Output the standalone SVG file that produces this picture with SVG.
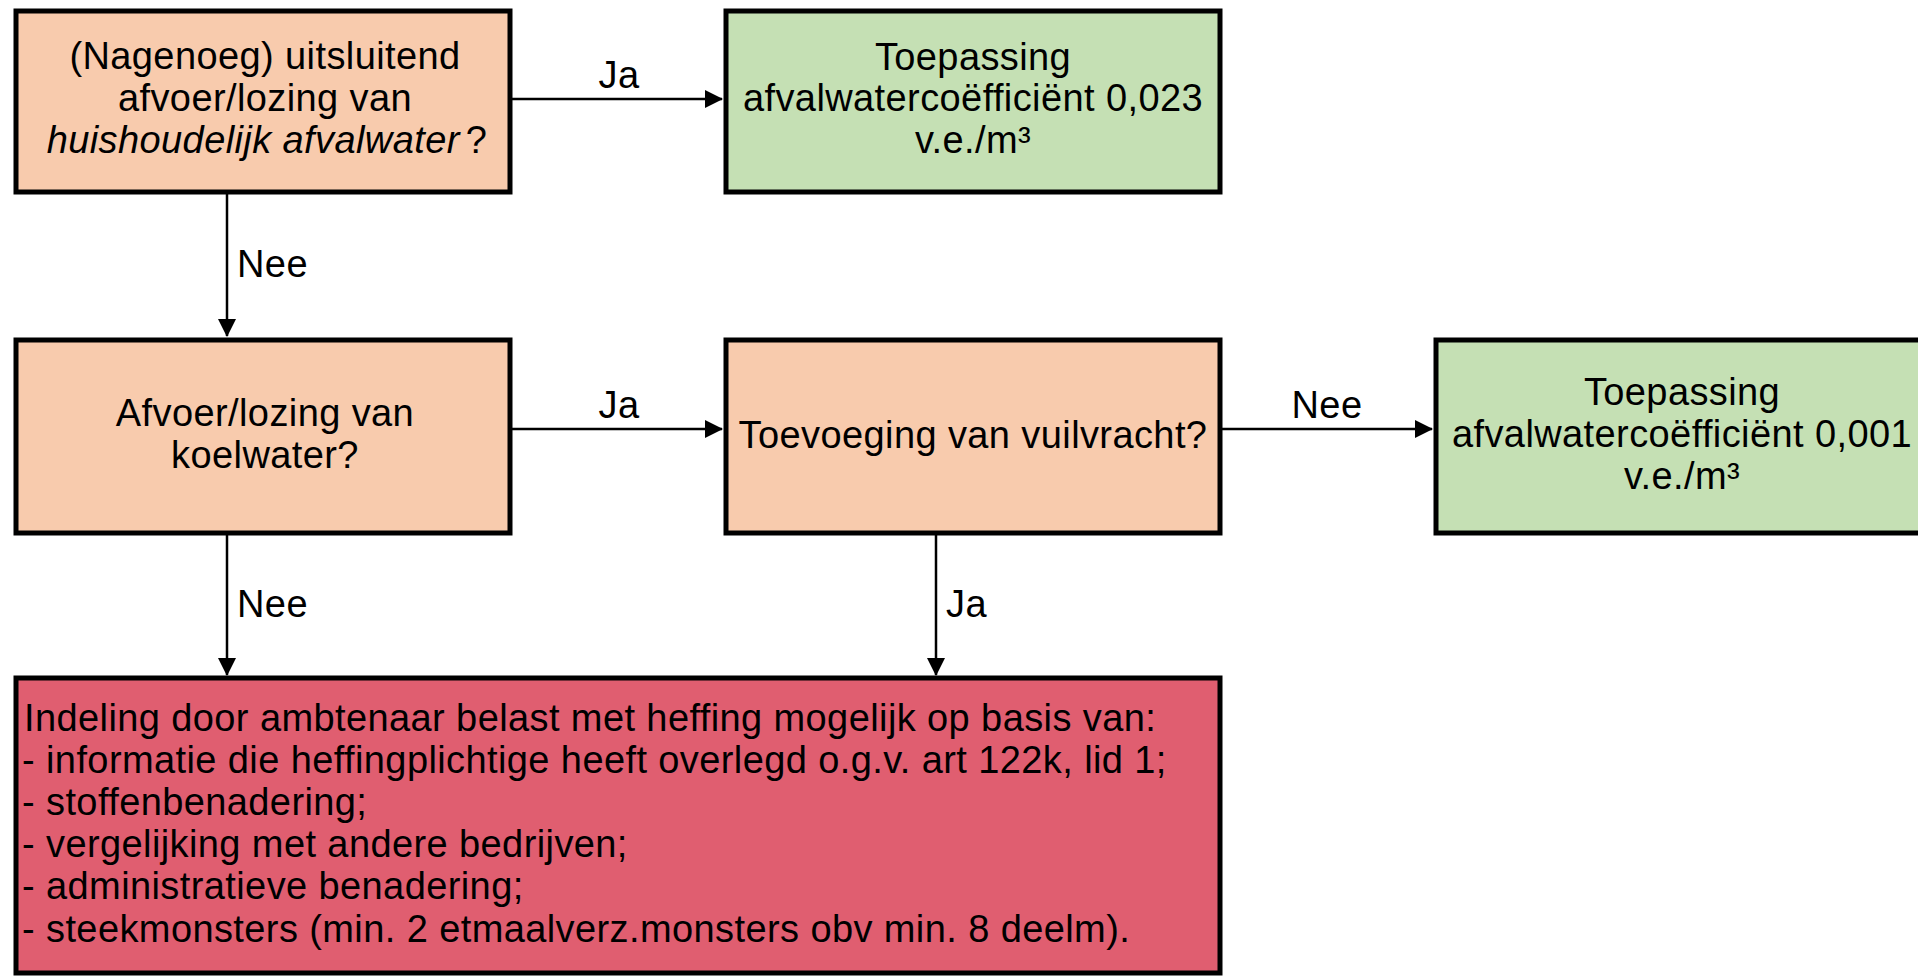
<svg xmlns="http://www.w3.org/2000/svg" width="1918" height="976" viewBox="0 0 1918 976">
<style>
.box{stroke:#000;stroke-width:5}
.q{fill:#F8CBAD}
.g{fill:#C5E0B4}
.r{fill:#E05E70}
text{font-family:"Liberation Sans",Arial,sans-serif;font-size:38px;fill:#000;letter-spacing:0.4px}
.c{text-anchor:middle}
.conn{stroke:#000;stroke-width:2.5;fill:none;marker-end:url(#ah)}
</style>
<defs>
<marker id="ah" markerWidth="18" markerHeight="18" refX="17" refY="9" orient="auto" markerUnits="userSpaceOnUse">
<path d="M0,0 L18,9 L0,18 Z" fill="#000"/>
</marker>
</defs>
<rect width="1918" height="976" fill="#fff"/>
<g id="connectors">
<line class="conn" x1="510" y1="99" x2="722" y2="99"/>
<line class="conn" x1="227" y1="193" x2="227" y2="336"/>
<line class="conn" x1="510" y1="429" x2="722" y2="429"/>
<line class="conn" x1="1222" y1="429" x2="1432" y2="429"/>
<line class="conn" x1="227" y1="533" x2="227" y2="675"/>
<line class="conn" x1="936" y1="533" x2="936" y2="675"/>
<text class="c" x="619" y="88">Ja</text>
<text x="237" y="277">Nee</text>
<text class="c" x="619" y="418">Ja</text>
<text class="c" x="1327" y="418">Nee</text>
<text x="237" y="617">Nee</text>
<text x="946" y="617">Ja</text>
</g>
<g id="n1">
<rect class="box q" x="16" y="11" width="494" height="181"/>
<text class="c" x="265" y="69">(Nagenoeg) uitsluitend</text>
<text class="c" x="265" y="111">afvoer/lozing van</text>
<text class="c" x="267" y="153"><tspan font-style="italic">huishoudelijk afvalwater</tspan><tspan dx="6">?</tspan></text>
</g>
<g id="n2">
<rect class="box g" x="726" y="11" width="494" height="181"/>
<text class="c" x="973" y="70">Toepassing</text>
<text class="c" x="973" y="111">afvalwatercoëfficiënt 0,023</text>
<text class="c" x="973" y="153">v.e./m³</text>
</g>
<g id="n3">
<rect class="box q" x="16" y="340" width="494" height="193"/>
<text class="c" x="265" y="426">Afvoer/lozing van</text>
<text class="c" x="265" y="468">koelwater?</text>
</g>
<g id="n4">
<rect class="box q" x="726" y="340" width="494" height="193"/>
<text class="c" x="973" y="448">Toevoeging van vuilvracht?</text>
</g>
<g id="n5">
<rect class="box g" x="1436" y="340" width="494" height="193"/>
<text class="c" x="1682" y="405">Toepassing</text>
<text class="c" x="1682" y="447">afvalwatercoëfficiënt 0,001</text>
<text class="c" x="1682" y="489">v.e./m³</text>
</g>
<g id="n6">
<rect class="box r" x="16" y="678" width="1204" height="295"/>
<text x="24" y="731">Indeling door ambtenaar belast met heffing mogelijk op basis van:</text>
<text x="22" y="773">- informatie die heffingplichtige heeft overlegd o.g.v. art 122k, lid 1;</text>
<text x="22" y="815">- stoffenbenadering;</text>
<text x="22" y="857">- vergelijking met andere bedrijven;</text>
<text x="22" y="899">- administratieve benadering;</text>
<text x="22" y="942">- steekmonsters (min. 2 etmaalverz.monsters obv min. 8 deelm).</text>
</g>
</svg>
